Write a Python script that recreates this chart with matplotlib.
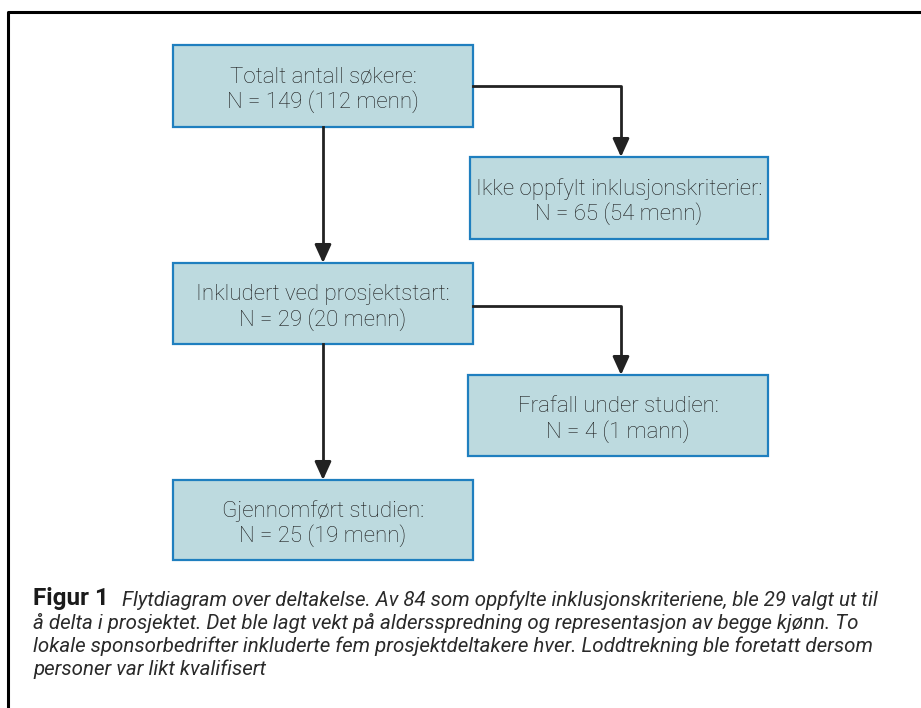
import matplotlib.pyplot as plt
from matplotlib.patches import Rectangle

# Box texts
box_titles = ["Totalt antall søkere:", "Ikke oppfylt inklusjonskriterier:",
              "Inkludert ved prosjektstart:", "Frafall under studien:",
              "Gjennomført studien:"]
box_counts = ["N = 149 (112 menn)", "N = 65 (54 menn)", "N = 29 (20 menn)",
              "N = 4 (1 mann)", "N = 25 (19 menn)"]

caption_bold = "Figur 1"
caption_lines = [
    "Flytdiagram over deltakelse. Av 84 som oppfylte inklusjonskriteriene, ble 29 valgt ut til",
    "å delta i prosjektet. Det ble lagt vekt på aldersspredning og representasjon av begge kjønn. To",
    "lokale sponsorbedrifter inkluderte fem prosjektdeltakere hver. Loddtrekning ble foretatt dersom",
    "personer var likt kvalifisert",
]

# Layout (pixels): left, top, width, height
boxes = [(173, 45, 300, 82), (470, 157, 298, 82), (173, 263, 300, 81),
         (468, 375, 300, 81), (173, 480, 300, 80)]
fill = "#bddadf"
edge = "#1f7fbf"
arrow_col = "#222222"

fig = plt.figure(figsize=(9.21, 7.08), dpi=100)
ax = fig.add_axes([0, 0, 1, 1])
ax.set_xlim(0, 921)
ax.set_ylim(708, 0)
ax.axis("off")

# frame (top and left visible)
ax.plot([8, 8, 921], [708, 12, 12], color="black", lw=2.2, solid_capstyle="butt")

for (x, y, w, h), t, n in zip(boxes, box_titles, box_counts):
    ax.add_patch(Rectangle((x, y), w, h, facecolor=fill, edgecolor=edge, lw=1.6))
    ax.text(x + w / 2, y + h / 2 - 9, t, ha="center", va="center",
            fontsize=16, color="#1c1c1c", family="Roboto", fontweight="light")
    ax.text(x + w / 2, y + h / 2 + 16, n, ha="center", va="center",
            fontsize=16, color="#1c1c1c", family="Roboto", fontweight="light")

def arrow(xs, ys):
    ax.plot(xs[:-1] + [xs[-1]], ys[:-1] + [ys[-1] - 14], color=arrow_col, lw=2)
    ax.annotate("", xy=(xs[-1], ys[-1]), xytext=(xs[-1], ys[-1] - 18),
                arrowprops=dict(arrowstyle="-|>,head_length=1.1,head_width=0.5",
                                color=arrow_col, lw=2, shrinkA=0, shrinkB=0))

cx = 323
arrow([cx, cx], [127, 263])
arrow([cx, cx], [344, 480])
arrow([473, 621, 621], [86, 86, 157])
arrow([473, 621, 621], [306, 306, 375])

# caption
ax.text(33, 599, caption_bold, fontsize=17.5, fontweight="bold", color="#1a1a1a",
        family="Roboto", va="center")
ax.text(122, 600, caption_lines[0], fontsize=14.8, style="italic", color="#2a2a2a",
        family="Roboto", va="center")
for i, line in enumerate(caption_lines[1:]):
    ax.text(33, 623 + 23 * i, line, fontsize=14.8, style="italic", color="#2a2a2a",
            family="Roboto", va="center")

fig.savefig("out.png", dpi=100)
